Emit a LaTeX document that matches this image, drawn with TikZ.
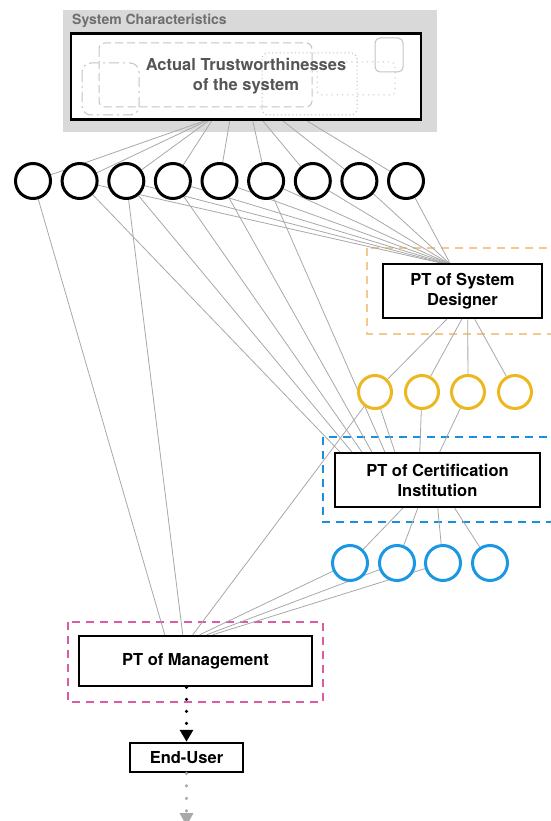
\documentclass[tikz,border=0pt]{standalone}
\usepackage{fontspec}
\setmainfont{TeX Gyre Heros}
\usetikzlibrary{arrows.meta}
\pgfdeclarelayer{bgzero}
\pgfdeclarelayer{edgelayer}
\pgfsetlayers{bgzero,edgelayer,main}
\definecolor{linkgray}{HTML}{A8A8A8}
\definecolor{panelgray}{HTML}{D9D9D9}
\definecolor{decogray}{HTML}{C4C4C4}
\definecolor{titlegray}{HTML}{6E6E6E}
\definecolor{textgray}{HTML}{555555}
\definecolor{ycol}{HTML}{EDB81F}
\definecolor{bcol}{HTML}{1C98E2}
\definecolor{orangedash}{HTML}{F5C98C}
\definecolor{bluedash}{HTML}{1A8FDB}
\definecolor{pinkdash}{HTML}{D85DA6}
\begin{document}
\begin{tikzpicture}[x=1pt,y=-1pt,
  box/.style={draw=black, line width=2.5pt, fill=white, align=center,
    font=\fontsize{16.5}{20}\selectfont\bfseries, inner sep=0pt},
  bcirc/.style={circle, draw=black, line width=3pt, fill=white, minimum size=35pt, inner sep=0pt},
  ycirc/.style={circle, draw=ycol, line width=3pt, fill=white, minimum size=33pt, inner sep=0pt},
  bluecirc/.style={circle, draw=bcol, line width=3pt, fill=white, minimum size=35pt, inner sep=0pt},
  link/.style={draw=linkgray, line width=0.8pt},
  groupbox/.style={line width=2.8pt, dash pattern=on 8pt off 6pt},
  deco/.style={draw=decogray, line width=1pt}]
\useasboundingbox (0,0) rectangle (550,821);

% panel background and decorations
\begin{pgfonlayer}{bgzero}
\fill[panelgray] (63,10) rectangle (437,132);
\fill[white] (70,32) rectangle (422,121);
\draw[deco, dash pattern=on 8pt off 4pt, rounded corners=6pt] (99,43) rectangle (312,107);
\draw[deco, dash pattern=on 10pt off 4pt on 2pt off 4pt, rounded corners=9pt] (82,63) rectangle (139,115);
\draw[deco, dash pattern=on 1.2pt off 2.6pt, rounded corners=6pt] (262,53) rectangle (357,115);
\draw[deco, dash pattern=on 1.2pt off 4pt, rounded corners=4pt] (317,62) rectangle (395,95);
\draw[deco, rounded corners=5pt] (375,38) rectangle (403,72);
\draw[orangedash, groupbox] (367,248) rectangle (560,334);
\draw[bluedash, groupbox] (323,437) rectangle (560,522);
\draw[pinkdash, groupbox] (68,622) rectangle (323,702);
\end{pgfonlayer}

\node[anchor=west, text=titlegray, font=\fontsize{14}{16}\selectfont\bfseries, inner sep=0pt] (title) at (72,21) {System Characteristics};

\node[box, fill=none, text=textgray, minimum width=350pt, minimum height=86pt] (top) at (246,76.5)
  {Actual Trustworthinesses\\of the system};

\foreach \i/\x in {1/33,2/79.6,3/126.3,4/172.9,5/219.5,6/266.1,7/312.8,8/359.4,9/406}
  \node[bcirc] (c\i) at (\x,181) {};

\node[box, minimum width=159pt, minimum height=54pt] (sd) at (462.5,291) {PT of System\\Designer};
\node[box, minimum width=205pt, minimum height=54pt] (cert) at (437.5,480) {PT of Certification\\Institution};
\node[box, minimum width=233pt, minimum height=50pt] (mgmt) at (195.5,661) {PT of Management};
\node[box, minimum width=113pt, minimum height=29pt] (eu) at (186.5,757.5) {End-User};

\foreach \i/\x in {1/375,2/422,3/468,4/515}
  \node[ycirc] (y\i) at (\x,392) {};
\foreach \i/\x in {1/350,2/397,3/443,4/490}
  \node[bluecirc] (b\i) at (\x,563) {};

\coordinate (endc) at (186.5,826);

\begin{pgfonlayer}{edgelayer}
% system characteristics to black circles
\foreach \i/\s in {1/135,2/137,3/139,4/142,5/160,6/183,7/193,8/213,9/237}
  \draw[link] ([xshift=\s pt]top.south west) -- (c\i);
% black circles to PT of Management
\draw[link] (c1) -- ([xshift=87pt]mgmt.north west);
\draw[link] (c3) -- ([xshift=105pt]mgmt.north west);
% black circles to PT of Certification Institution
\foreach \i/\s in {2/6,3/18,4/28,5/38,6/51}
  \draw[link] (c\i) -- ([xshift=\s pt]cert.north west);
% black circles to PT of System Designer
\foreach \i/\s in {2/58,3/60,4/62,5/64,6/65,7/66,8/67,9/68}
  \draw[link] (c\i) -- ([xshift=\s pt]sd.north west);
% System Designer to yellow circles
\foreach \i/\s in {1/65,2/80,3/86,4/93}
  \draw[link] ([xshift=\s pt]sd.south west) -- (y\i);
% yellow circles onwards
\foreach \i/\s in {1/61,2/86,3/106}
  \draw[link] (y\i) -- ([xshift=\s pt]cert.north west);
\draw[link] (y1) -- ([xshift=115pt]mgmt.north west);
% Certification to blue circles
\foreach \i/\s in {1/69,2/84,3/104,4/121}
  \draw[link] ([xshift=\s pt]cert.south west) -- (b\i);
% blue circles to Management
\foreach \i/\s in {1/122,2/129,3/135}
  \draw[link] (b\i) -- ([xshift=\s pt]mgmt.north west);
\end{pgfonlayer}

% dotted arrows
\draw[line width=3.5pt, line cap=round, dash pattern=on 0pt off 12pt,
  -{Triangle[length=12pt,width=13pt]}] ([xshift=-9pt]mgmt.south) -- (eu.north);
\draw[linkgray, line width=3.5pt, line cap=round, dash pattern=on 0pt off 12.5pt,
  -{Triangle[length=13pt,width=13pt]}] (eu.south) -- (endc);
\end{tikzpicture}
\end{document}
